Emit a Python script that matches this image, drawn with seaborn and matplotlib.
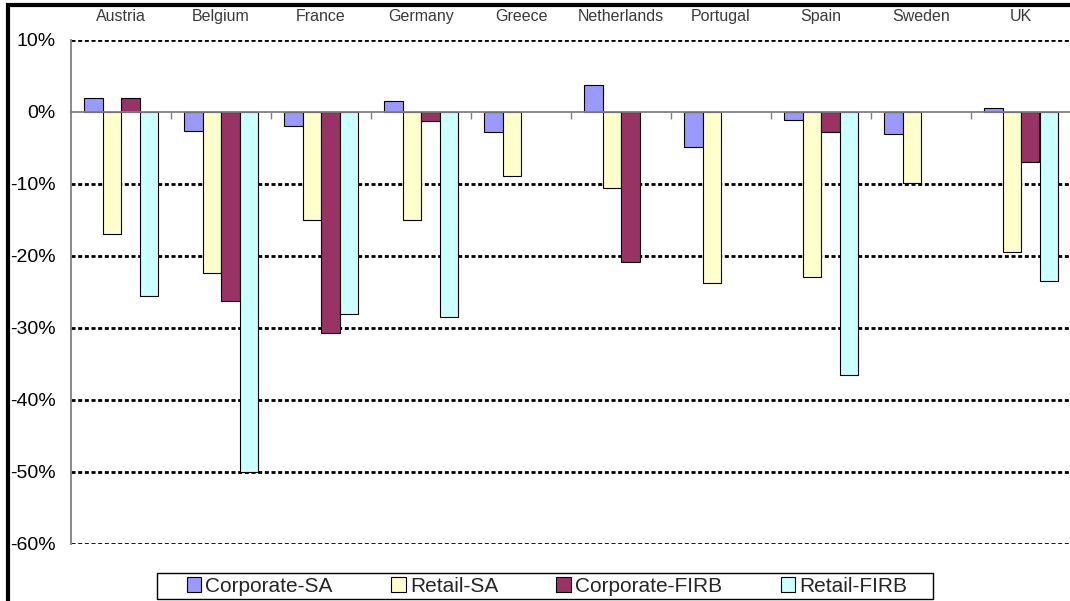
import numpy as np
import pandas as pd
import matplotlib
matplotlib.use("Agg")
import matplotlib.pyplot as plt
from matplotlib.patches import Patch, Rectangle
from matplotlib.ticker import FixedLocator, FuncFormatter
import seaborn as sns

# Change in capital requirement by country and portfolio (%)
countries = ["Austria", "Belgium", "France", "Germany", "Greece",
             "Netherlands", "Portugal", "Spain", "Sweden", "UK"]
series_names = ["Corporate-SA", "Retail-SA", "Corporate-FIRB", "Retail-FIRB"]
corporate_sa = [2.0, -2.7, -2.0, 1.5, -2.8, 3.8, -4.8, -1.1, -3.1, 0.5]
retail_sa = [-17.0, -22.3, -15.0, -15.0, -8.9, -10.5, -23.8, -22.9, -9.9, -19.5]
corporate_firb = [1.9, -26.2, -30.7, -1.3, np.nan, -20.9, np.nan, -2.8, np.nan, -7.0]
retail_firb = [-25.6, -50.0, -28.0, -28.5, np.nan, np.nan, np.nan, -36.5, np.nan, -23.5]
y_ticks = [10, 0, -10, -20, -30, -40, -50, -60]

colors = ["#9999FF", "#FFFFCC", "#993366", "#CCFFFF"]

frames = []
for name, vals in zip(series_names,
                      [corporate_sa, retail_sa, corporate_firb, retail_firb]):
    frames.append(pd.DataFrame({"country": countries, "series": name, "value": vals}))
df = pd.concat(frames, ignore_index=True)

sns.set_style("white")
plt.rcParams["font.family"] = ["Liberation Sans", "DejaVu Sans"]

W, H = 1070, 601
fig = plt.figure(figsize=(W / 100, H / 100), dpi=100)
ax = fig.add_axes([71 / W, 1 - 544 / H, 1000 / W, 504 / H])

sns.barplot(data=df, x="country", y="value", hue="series",
            order=countries, hue_order=series_names, palette=colors,
            width=0.74, saturation=1, errorbar=None,
            edgecolor="black", linewidth=0.8, ax=ax, legend=False)

ax.set_xlim(-0.5, len(countries) - 0.5)
ax.set_ylim(min(y_ticks), max(y_ticks))
ax.set_xlabel("")
ax.set_ylabel("")

# dotted gridlines behind the bars (the zero line is the category axis)
for t in y_ticks:
    if t != 0:
        ax.axhline(t, color="black", lw=2.0, linestyle=(0, (1.45, 0.95)), zorder=0.5)

ax.yaxis.set_major_locator(FixedLocator(y_ticks))
ax.yaxis.set_major_formatter(FuncFormatter(lambda v, p: f"{v:.0f}%"))
ax.tick_params(axis="y", which="major", length=6, width=1, color="#808080",
               labelsize=14, labelcolor="black", pad=5, direction="out")

# category axis sits on the zero line; names are printed along the top
ax.spines["bottom"].set_position(("data", 0))
ax.spines["bottom"].set_color("#808080")
ax.spines["bottom"].set_linewidth(1.3)
ax.spines["left"].set_color("#808080")
ax.spines["left"].set_linewidth(1.3)
ax.spines["top"].set_visible(False)
ax.spines["right"].set_visible(False)

ax.xaxis.set_minor_locator(FixedLocator(np.arange(0.5, len(countries) - 0.5, 1.0)))
ax.tick_params(axis="x", which="major", bottom=False, top=False,
               labelbottom=False, labeltop=True, labelsize=11.5,
               labelcolor="#3a3a3a", pad=8)
ax.tick_params(axis="x", which="minor", bottom=True, top=False,
               length=5, width=1, color="#808080", direction="out")

# legend
handles = [Patch(facecolor=c, edgecolor="black", linewidth=0.8) for c in colors]
fig.legend(handles, series_names, loc="center", ncol=4,
           bbox_to_anchor=(547 / W, 1 - 586 / H), frameon=False,
           fontsize=15, handlelength=0.7, handleheight=0.7,
           handletextpad=0.2, columnspacing=2.8, borderpad=0.1)
fig.add_artist(Rectangle((157 / W, 1 - 599 / H), 776 / W, 26 / H,
                         transform=fig.transFigure, fill=False,
                         edgecolor="black", linewidth=1.0))

# outer frame of the chart area
fig.add_artist(Rectangle((8 / W, -0.05), 1.1, 1.05 - 5.5 / H,
                         transform=fig.transFigure, fill=False,
                         edgecolor="black", linewidth=3, clip_on=False))

fig.savefig("out.png", dpi=100)
